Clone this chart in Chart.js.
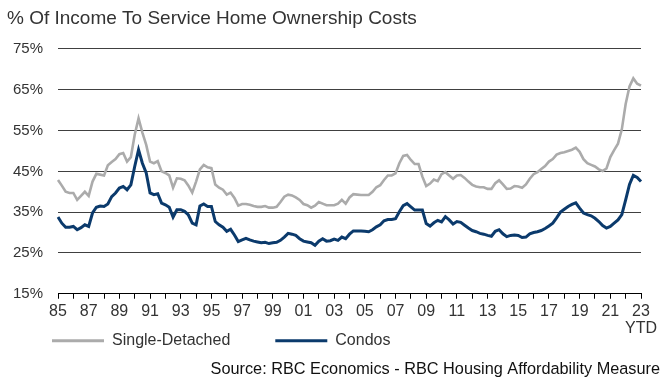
<!DOCTYPE html>
<html>
<head>
<meta charset="utf-8">
<script src="https://cdn.jsdelivr.net/npm/chart.js@4.4.0/dist/chart.umd.min.js"></script>
<style>
  html, body { margin: 0; padding: 0; background: #ffffff; }
  #wrap { position: relative; width: 665px; height: 379px; }
</style>
</head>
<body>
<div id="wrap"><canvas id="c" width="665" height="379"></canvas></div>
<script>
// ---- Data ----
const years = [1985,1986,1987,1988,1989,1990,1991,1992,1993,1994,1995,1996,1997,1998,1999,
               2000,2001,2002,2003,2004,2005,2006,2007,2008,2009,2010,2011,2012,2013,2014,
               2015,2016,2017,2018,2019,2020,2021,2022,2023];
const quarterNames = ['Q1','Q2','Q3','Q4'];
// quarterly categories, 1985 Q1 .. 2023 Q1 (2023 YTD)
const categories = years.flatMap(y => quarterNames.map(q => y + ' ' + q)).slice(0, 153);

const tickLabels = ['85','87','89','91','93','95','97','99','01','03',
                    '05','07','09','11','13','15','17','19','21','23'];
const lastTickNote = 'YTD';

const seriesNames = ['Single-Detached', 'Condos'];

const singleDetached = [
  42.9, 41.5, 40.0, 39.7, 39.7, 38.0, 39.0, 40.0, 39.0, 42.5,
  44.4, 44.2, 44.0, 46.5, 47.3, 48.0, 49.2, 49.5, 47.4, 48.5,
  54.0, 58.0, 54.5, 51.5, 47.4, 47.0, 47.5, 45.0, 44.6, 44.0,
  41.0, 43.3, 43.2, 42.8, 41.5, 39.8, 42.5, 45.5, 46.6, 46.0,
  45.8, 41.8, 41.0, 40.5, 39.3, 39.8, 38.5, 36.6, 37.0, 37.0,
  36.8, 36.5, 36.3, 36.3, 36.5, 36.1, 36.1, 36.3, 37.5, 38.8,
  39.3, 39.1, 38.6, 38.0, 37.0, 36.7, 36.1, 36.6, 37.5, 37.1,
  36.7, 36.7, 36.7, 37.1, 38.0, 37.1, 38.6, 39.4, 39.3, 39.2,
  39.2, 39.2, 40.0, 41.1, 41.6, 42.9, 44.0, 44.0, 44.5, 47.0,
  48.8, 49.0, 47.8, 46.8, 46.8, 43.7, 41.4, 42.0, 43.0, 42.6,
  44.3, 44.8, 44.0, 43.2, 44.0, 44.1, 43.4, 42.5, 41.7, 41.3,
  41.1, 41.1, 40.7, 40.7, 42.1, 42.8, 41.8, 40.7, 40.8, 41.4,
  41.3, 41.0, 41.8, 43.2, 44.3, 44.8, 45.6, 46.3, 47.4, 48.0,
  49.1, 49.5, 49.7, 50.0, 50.3, 50.8, 49.8, 48.0, 47.0, 46.6,
  46.2, 45.5, 45.1, 45.7, 48.5, 50.2, 51.8, 55.3, 61.5, 65.8,
  67.8, 66.5, 66.0
];

const condos = [
  33.8, 32.3, 31.3, 31.3, 31.5, 30.7, 31.2, 31.9, 31.5, 34.8,
  36.2, 36.5, 36.4, 37.0, 38.8, 39.7, 40.9, 41.3, 40.5, 41.7,
  46.2, 50.3, 47.0, 44.6, 39.7, 39.3, 39.5, 37.2, 36.8, 36.2,
  33.8, 35.6, 35.6, 35.2, 34.3, 32.3, 31.9, 36.5, 37.0, 36.4,
  36.4, 32.7, 31.9, 31.3, 30.3, 30.8, 29.4, 27.8, 28.2, 28.6,
  28.2, 27.9, 27.7, 27.5, 27.6, 27.3, 27.5, 27.6, 28.1, 28.9,
  29.8, 29.6, 29.3, 28.5, 27.9, 27.7, 27.5, 26.9, 27.9, 28.5,
  27.9, 28.0, 28.4, 28.1, 28.9, 28.5, 29.6, 30.4, 30.4, 30.4,
  30.3, 30.2, 30.7, 31.4, 31.9, 32.9, 33.2, 33.2, 33.4, 35.1,
  36.6, 37.1, 36.3, 35.5, 35.5, 35.5, 32.2, 31.6, 32.4, 33.0,
  32.6, 33.9, 33.1, 32.1, 32.7, 32.5, 31.8, 31.1, 30.5, 30.2,
  29.8, 29.6, 29.3, 29.1, 30.3, 30.7, 29.7, 29.0, 29.3, 29.4,
  29.3, 28.8, 28.9, 29.7, 30.0, 30.2, 30.5, 31.0, 31.6, 32.3,
  33.6, 35.0, 35.7, 36.4, 36.9, 37.3, 36.0, 34.8, 34.4, 34.1,
  33.5, 32.7, 31.7, 31.1, 31.5, 32.3, 33.1, 34.4, 38.0, 41.8,
  44.0, 43.5, 42.5
];

const yTicks = { min: 15, max: 75, step: 10 };
const titleText = '% Of Income To Service Home Ownership Costs';
const sourceText = 'Source: RBC Economics - RBC Housing Affordability Measure';

// ---- Styling ----
const FONT = "'Liberation Sans', Arial, sans-serif";
const GRAY = '#ababab';
const NAVY = '#0b3a6c';
const TEXT = '#333333';

const chart = new Chart(document.getElementById('c'), {
  type: 'line',
  data: {
    labels: categories,
    datasets: [
      { label: seriesNames[0], data: singleDetached, borderColor: GRAY, backgroundColor: GRAY,
        borderWidth: 2.6, pointRadius: 0, tension: 0, yAxisID: 'y' },
      { label: seriesNames[1], data: condos, borderColor: NAVY, backgroundColor: NAVY,
        borderWidth: 3, pointRadius: 0, tension: 0, yAxisID: 'y' }
    ]
  },
  options: {
    responsive: false,
    animation: false,
    devicePixelRatio: 1,
    layout: { padding: { left: 7, right: 5, top: 0, bottom: 0 } },
    plugins: {
      tooltip: { enabled: false },
      title: {
        display: true, text: titleText, align: 'start', color: '#333333',
        font: { family: FONT, size: 19, weight: 'normal' },
        padding: { top: 7, bottom: 19.2 }
      },
      subtitle: {
        display: true, text: sourceText, position: 'bottom', align: 'end', color: '#111111',
        font: { family: FONT, size: 16.3, weight: 'normal' },
        padding: { top: 1, bottom: -6.3 }
      },
      legend: {
        display: true, position: 'bottom', align: 'start',
        labels: {
          font: { family: FONT, size: 16 }, color: TEXT,
          boxWidth: 52, boxHeight: 3, padding: 45,
          generateLabels: (ch) => Chart.defaults.plugins.legend.labels.generateLabels(ch)
            .map(l => Object.assign(l, { lineWidth: 0 }))
        }
      }
    },
    scales: {
      x: {
        type: 'category',
        offset: false,
        grid: {
          display: true, drawOnChartArea: false, drawTicks: true, tickLength: 5,
          tickColor: (ctx) => (ctx.index % 4 === 0 ? '#000000' : 'rgba(0,0,0,0)'),
          tickWidth: 1
        },
        border: { display: true, color: '#000000', width: 1 },
        ticks: {
          autoSkip: false, maxRotation: 0, minRotation: 0,
          mirror: true, padding: -26.5,
          color: TEXT, font: { family: FONT, size: 16, lineHeight: 1.05 },
          callback: (value, index) => {
            if (index % 8 !== 0) return '';
            const lab = tickLabels[index / 8];
            return index === categories.length - 1 ? [lab, lastTickNote] : lab;
          }
        },
        afterFit: (s) => { s.height = -6; }
      },
      y: {
        type: 'linear', position: 'left',
        min: yTicks.min, max: yTicks.max,
        grid: { color: '#404040', lineWidth: 1.1, drawTicks: false },
        border: { display: false },
        ticks: {
          stepSize: yTicks.step, padding: 15, color: TEXT,
          font: { family: FONT, size: 15 },
          callback: (v) => v + '%'
        },
        afterFit: (s) => { s.width = 51; }
      },
      yRight: {
        type: 'linear', position: 'right', display: true,
        grid: { display: false, drawTicks: false },
        border: { display: false },
        ticks: { display: false },
        afterFit: (s) => { s.width = 19; }
      }
    }
  }
});
</script>
</body>
</html>
